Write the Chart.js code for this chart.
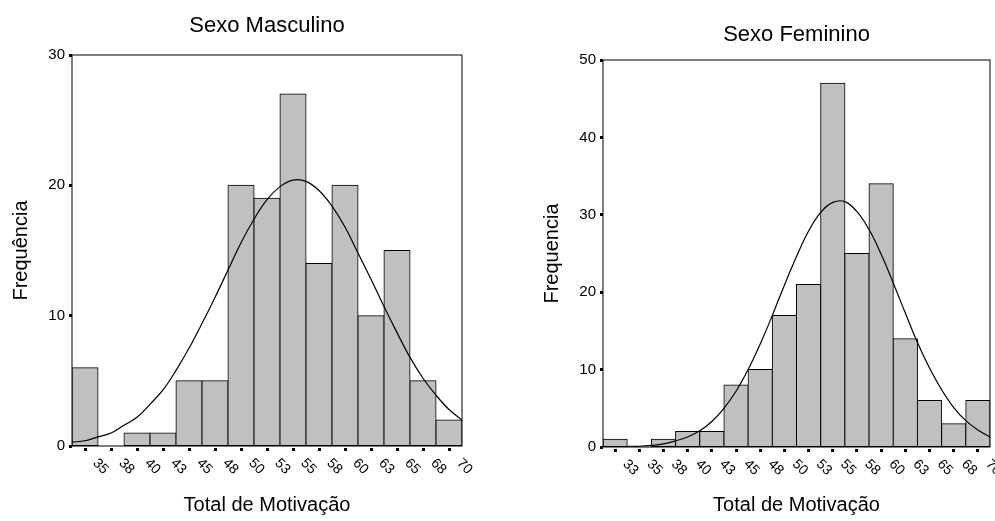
<!DOCTYPE html>
<html>
<head>
<meta charset="utf-8">
<script src="https://cdn.jsdelivr.net/npm/chart.js@4.4.1/dist/chart.umd.min.js"></script>
<style>
  html, body { margin: 0; padding: 0; background: #fff; }
  body { width: 995px; height: 521px; position: relative; overflow: hidden; }
  canvas { position: absolute; top: 0; }
  #male { left: 0; }
  #female { left: 531px; }
</style>
</head>
<body>
<canvas id="male" width="495" height="521"></canvas>
<canvas id="female" width="464" height="521"></canvas>
<script>
// bin centres, printed labels and counts
const maleBins = [35, 37.5, 40, 42.5, 45, 47.5, 50, 52.5, 55, 57.5, 60, 62.5, 65, 67.5, 70];
const maleLabels = ["35", "38", "40", "43", "45", "48", "50", "53", "55", "58", "60", "63", "65", "68", "70"];
const maleCounts = [6, 0, 1, 1, 5, 5, 20, 19, 27, 14, 20, 10, 15, 5, 2];

const femaleBins = [32.5, 35, 37.5, 40, 42.5, 45, 47.5, 50, 52.5, 55, 57.5, 60, 62.5, 65, 67.5, 70];
const femaleLabels = ["33", "35", "38", "40", "43", "45", "48", "50", "53", "55", "58", "60", "63", "65", "68", "70"];
const femaleCounts = [1, 0, 1, 2, 2, 8, 10, 17, 21, 47, 25, 34, 14, 6, 3, 6];

// normal curve
const curveX = [33.75, 35, 36.25, 37.5, 38.75, 40, 41.25, 42.5, 43.75, 45, 46.25, 47.5, 48.75, 50, 51.25,
  52.5, 53.75, 55, 56.25, 57.5, 58.75, 60, 61.25, 62.5, 63.75, 65, 66.25, 67.5, 68.75, 70, 71.25];
const maleCurve = [0.3, 0.4, 0.7, 1.0, 1.6, 2.2, 3.2, 4.3, 5.8, 7.5, 9.4, 11.4, 13.5, 15.6, 17.4,
  18.9, 19.9, 20.4, 20.3, 19.6, 18.4, 16.8, 14.8, 12.8, 10.7, 8.7, 6.8, 5.2, 3.9, 2.8, 2.0];
const femaleCurve = [0.1, 0.1, 0.2, 0.4, 0.8, 1.3, 2.1, 3.3, 5.0, 7.2, 10.0, 13.3, 17.0, 20.9, 24.6,
  27.9, 30.3, 31.6, 31.7, 30.4, 28.1, 24.9, 21.2, 17.3, 13.5, 10.2, 7.4, 5.1, 3.4, 2.2, 1.3];

Chart.defaults.font.family = '"Liberation Sans", Arial, sans-serif';
Chart.defaults.color = "#000";

// box around the plot area
const frame = {
  id: "frame",
  afterDraw(chart) {
    const { ctx, chartArea: a } = chart;
    ctx.save();
    ctx.strokeStyle = "#000";
    ctx.lineWidth = 1;
    ctx.strokeRect(a.left, a.top, a.right - a.left, a.bottom - a.top);
    ctx.restore();
  },
};

// x tick labels turned 45 degrees clockwise, starting under the tick
const slantLabels = {
  id: "slantLabels",
  afterDraw(chart, args, opts) {
    const { ctx, chartArea } = chart;
    const x = chart.scales.x;
    ctx.save();
    ctx.font = '14px "Liberation Sans", Arial, sans-serif';
    ctx.fillStyle = "#000";
    ctx.textAlign = "left";
    ctx.textBaseline = "middle";
    x.ticks.forEach((t, i) => {
      const px = x.getPixelForValue(t.value);
      ctx.save();
      ctx.translate(px + 10, chartArea.bottom + 15);
      ctx.rotate(Math.PI / 4);
      ctx.fillText(opts.labels[i], 0, 0);
      ctx.restore();
    });
    ctx.restore();
  },
};

function histogram(id, cfg) {
  const ctx = document.getElementById(id).getContext("2d");
  return new Chart(ctx, {
    type: "bar",
    data: {
      datasets: [
        {
          type: "line",
          data: curveX.map((x, i) => ({ x, y: cfg.curve[i] })),
          borderColor: "#000",
          borderWidth: 1.2,
          pointRadius: 0,
          tension: 0.4,
          fill: false,
          order: 0,
        },
        {
          data: cfg.bins.map((x, i) => ({ x, y: cfg.counts[i] })),
          backgroundColor: "#c0c0c0",
          borderColor: "#000",
          borderWidth: 1,
          borderSkipped: false,
          inflateAmount: 0.5,
          barPercentage: 1,
          categoryPercentage: 1,
          order: 1,
        },
      ],
    },
    options: {
      responsive: false,
      animation: false,
      layout: { padding: { left: 0, right: cfg.padRight, top: 0, bottom: 0 } },
      scales: {
        x: {
          type: "linear",
          min: cfg.xMin,
          max: cfg.xMax,
          offset: false,
          afterBuildTicks: (scale) => {
            scale.ticks = cfg.bins.map((v) => ({ value: v }));
          },
          afterFit: (scale) => {
            scale.height = cfg.xHeight;
          },
          ticks: { display: false },
          grid: {
            offset: false,
            drawOnChartArea: false,
            drawTicks: true,
            tickLength: 6,
            tickWidth: 3,
            tickColor: "#000",
            tickBorderDash: [0, 2, 3, 10],
          },
          border: { display: false },
          title: {
            display: true,
            text: "Total de Motivação",
            font: { size: 20 },
            padding: { top: 0, bottom: 4 },
          },
        },
        y: {
          min: 0,
          max: cfg.yMax,
          afterFit: (scale) => {
            scale.width = 72;
          },
          ticks: { stepSize: 10, font: { size: 15 }, padding: 4 },
          grid: {
            drawOnChartArea: false,
            drawTicks: true,
            tickLength: 3,
            tickWidth: 3,
            tickColor: "#000",
          },
          border: { display: false },
          title: {
            display: true,
            text: cfg.yTitle,
            font: { size: 20 },
            padding: { top: 9, bottom: 0 },
          },
        },
      },
      plugins: {
        legend: { display: false },
        tooltip: { enabled: false },
        title: {
          display: true,
          text: cfg.title,
          fullSize: false,
          font: { size: 22, weight: "normal" },
          padding: { top: cfg.titleTop, bottom: cfg.titleBottom },
        },
        slantLabels: { labels: cfg.labels },
      },
    },
    plugins: [frame, slantLabels],
  });
}

histogram("male", {
  title: "Sexo Masculino",
  yTitle: "Frequência",
  bins: maleBins,
  labels: maleLabels,
  counts: maleCounts,
  curve: maleCurve,
  xMin: 33.75,
  xMax: 71.25,
  yMax: 30,
  padRight: 33,
  xHeight: 75,
  titleTop: 13,
  titleBottom: 15.6,
});

histogram("female", {
  title: "Sexo Feminino",
  yTitle: "Frequencia",
  bins: femaleBins,
  labels: femaleLabels,
  counts: femaleCounts,
  curve: femaleCurve,
  xMin: 31.25,
  xMax: 71.25,
  yMax: 50,
  padRight: 5,
  xHeight: 74,
  titleTop: 21.8,
  titleBottom: 11.8,
});
</script>
</body>
</html>
